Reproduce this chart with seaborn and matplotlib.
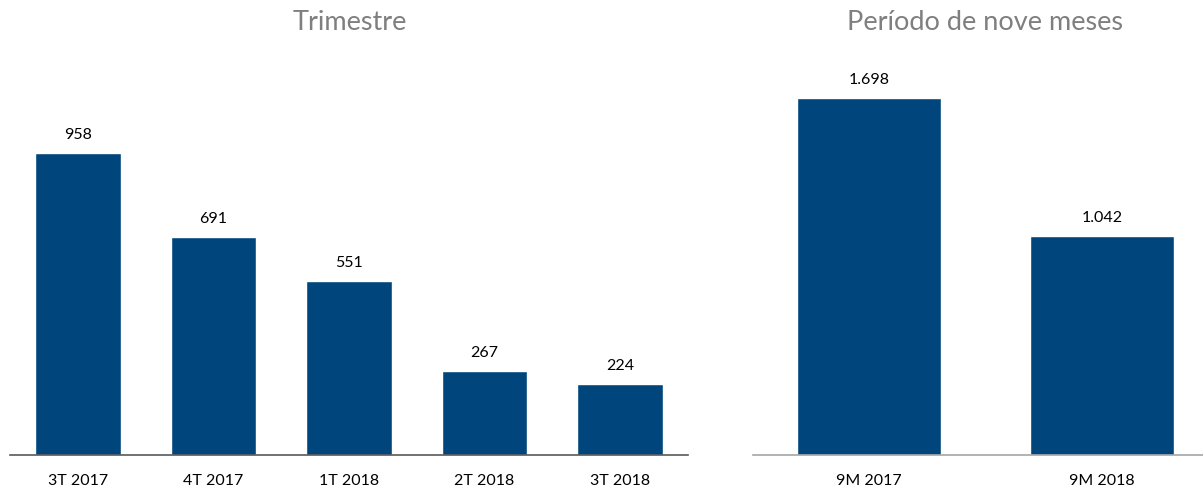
import matplotlib
matplotlib.use("Agg")
import matplotlib.pyplot as plt
import seaborn as sns
import pandas as pd

# Quarterly values
quarters = ["3T 2017", "4T 2017", "1T 2018", "2T 2018", "3T 2018"]
quarter_values = [958, 691, 551, 267, 224]
quarter_labels = ["958", "691", "551", "267", "224"]

# Nine-month period values
periods = ["9M 2017", "9M 2018"]
period_values = [1698, 1042]
period_labels = ["1.698", "1.042"]

sns.set_style("white")
plt.rcParams["font.family"] = ["Lato", "DejaVu Sans"]

BAR = "#00467c"
W, H = 1203, 487
fig = plt.figure(figsize=(W / 100, H / 100), dpi=100)

base = 455
top = 60
ax1 = fig.add_axes([10.25 / W, (H - base) / H, 677.5 / W, (base - top) / H])
ax2 = fig.add_axes([752.5 / W, (H - base) / H, 466 / W, (base - top) / H])

df1 = pd.DataFrame({"cat": quarters, "val": quarter_values})
df2 = pd.DataFrame({"cat": periods, "val": period_values})

sns.barplot(data=df1, x="cat", y="val", color=BAR, width=0.63,
            saturation=1, ax=ax1)
sns.barplot(data=df2, x="cat", y="val", color=BAR, width=0.62,
            saturation=1, ax=ax2)

ax1.set_ylim(0, (base - top) / 0.3149)
ax2.set_ylim(0, (base - top) / 0.2101)
ax1.set_xlim(-0.5, len(quarters) - 0.5)
ax2.set_xlim(-0.5, len(periods) - 0.5)

for ax, labels, spine_color in [(ax1, quarter_labels, "#595959"),
                                 (ax2, period_labels, "#a6a6a6")]:
    for side in ["left", "right", "top"]:
        ax.spines[side].set_visible(False)
    ax.spines["bottom"].set_color(spine_color)
    ax.spines["bottom"].set_linewidth(1.2)
    ax.set_yticks([])
    ax.set_xlabel("")
    ax.set_ylabel("")
    ax.tick_params(axis="x", length=0, pad=14, labelsize=11.5,
                   labelcolor="#000000")
    ax.bar_label(ax.containers[0], labels=labels, padding=8,
                 fontsize=11.5, color="#000000")

fig.text(350 / W, 1 - 23 / H, "Trimestre", ha="center", va="center",
         fontsize=19.5, color="#7f7f7f")
fig.text(985 / W, 1 - 23 / H, "Período de nove meses", ha="center",
         va="center", fontsize=19.5, color="#7f7f7f")

fig.savefig("out.png", dpi=100)
